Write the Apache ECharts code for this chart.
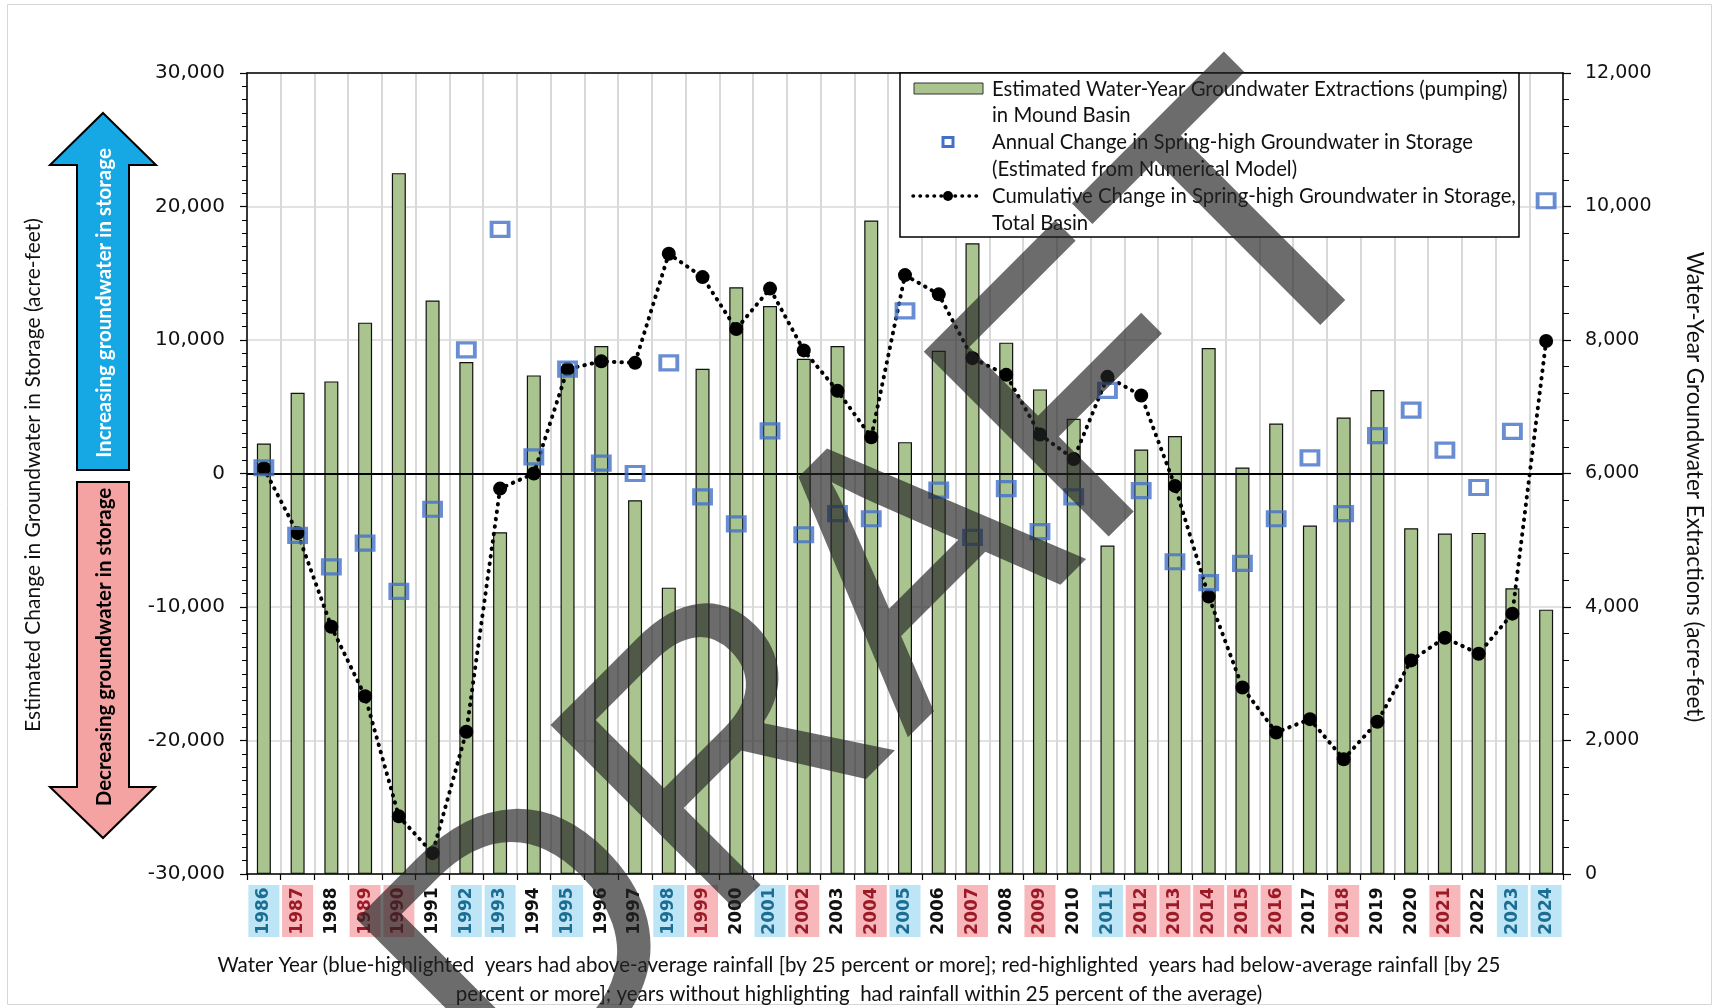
<!DOCTYPE html>
<html>
<head>
<meta charset="utf-8">
<style>html,body{margin:0;padding:0;background:#fff;}#c{width:1716px;height:1008px;}</style>
<script src="https://cdn.jsdelivr.net/npm/echarts@6/dist/echarts.min.js"></script>
</head>
<body>
<div id="c"></div>
<script>
const years = ['1986','1987','1988','1989','1990','1991','1992','1993','1994','1995','1996','1997','1998','1999','2000','2001','2002','2003','2004','2005','2006','2007','2008','2009','2010','2011','2012','2013','2014','2015','2016','2017','2018','2019','2020','2021','2022','2023','2024'];
// Estimated water-year groundwater extractions (right axis, acre-feet)
const extraction = [6450,7210,7380,8260,10500,8590,7670,5120,7470,7580,7910,5600,4290,7570,8790,8510,7720,7910,9790,6470,7840,9450,7960,7260,6820,4920,6360,6560,7880,6090,6750,5220,6840,7250,5180,5100,5110,4280,3960];
// Annual change in spring-high groundwater in storage (left axis)
const annualChange = [430,-4630,-7000,-5210,-8830,-2680,9260,18290,1250,7820,780,0,8290,-1750,-3770,3190,-4590,-3000,-3390,12180,-1250,-4790,-1130,-4360,-1750,6230,-1280,-6610,-8170,-6730,-3390,1170,-3000,2840,4750,1750,-1050,3150,20430];
// Cumulative change in spring-high groundwater in storage (left axis)
const cumulative = [390,-4470,-11480,-16690,-25680,-28440,-19340,-1130,0,7820,8400,8290,16460,14710,10820,13850,9220,6190,2720,14860,13420,8640,7390,2920,1090,7240,5840,-930,-9220,-16030,-19400,-18400,-21400,-18600,-14000,-12300,-13500,-10500,9920];
// Rainfall class per year: 'a' above average, 'b' below average, '' within 25%
const rainClass = ['a','b','','b','b','','a','a','','a','','','a','b','','a','b','','b','a','','b','','b','','a','b','b','b','b','b','','b','','','b','','a','a'];

const seriesNames = [
  'Estimated Water-Year Groundwater Extractions (pumping) in Mound Basin',
  'Annual Change in Spring-high Groundwater in Storage (Estimated from Numerical Model)',
  'Cumulative Change in Spring-high Groundwater in Storage, Total Basin'
];
const legendLines = [
  'Estimated Water-Year Groundwater Extractions (pumping)',
  'in Mound Basin',
  'Annual Change in Spring-high Groundwater in Storage',
  '(Estimated from Numerical Model)',
  'Cumulative Change in Spring-high Groundwater in Storage,',
  'Total Basin'
];
const xTitle1 = 'Water Year (blue-highlighted  years had above-average rainfall [by 25 percent or more]; red-highlighted  years had below-average rainfall [by 25';
const xTitle2 = 'percent or more]; years without highlighting  had rainfall within 25 percent of the average)';
const leftTitle = 'Estimated Change in Groundwater in Storage (acre-feet)';
const rightTitle = 'Water-Year Groundwater Extractions (acre-feet)';
const upText = 'Increasing groundwater in storage';
const downText = 'Decreasing groundwater in storage';

const barColor = '#a9c48e';
const sqColor = '#4270c8';
const calibri = 'Lato, "Open Sans", sans-serif';
const tickFont = '"DejaVu Sans", Verdana, sans-serif';

const fmt = v => v.toLocaleString('en-US');

const chart = echarts.init(document.getElementById('c'), null, {renderer: 'canvas'});

const labelBase = {fontFamily: tickFont, fontWeight: 'bold', fontSize: 17, width: 52, height: 31, lineHeight: 31, align: 'center'};

const legendY = [89, 115, 142, 169, 196, 223];
const graphics = [
  // outer frame
  {type: 'rect', silent: true, z: -10, shape: {x: 7.5, y: 4.5, width: 1704, height: 1000}, style: {fill: 'none', stroke: '#d6d6d6', lineWidth: 1}},
  // up arrow
  {type: 'polygon', z: 5, shape: {points: [[103,113],[156,165],[129,165],[129,470],[77,470],[77,165],[50,165]]}, style: {fill: '#15a8e4', stroke: '#000', lineWidth: 2}},
  {type: 'text', z: 6, x: 104, y: 303, rotation: Math.PI / 2, style: {text: upText, fill: '#fff', font: 'bold 20.5px ' + calibri, textAlign: 'center', textVerticalAlign: 'middle'}},
  // down arrow
  {type: 'polygon', z: 5, shape: {points: [[77,482],[129,482],[129,787],[155,787],[103,838],[50,787],[77,787]]}, style: {fill: '#f5a2a2', stroke: '#000', lineWidth: 2}},
  {type: 'text', z: 6, x: 104, y: 647, rotation: Math.PI / 2, style: {text: downText, fill: '#000', font: 'bold 20.5px ' + calibri, textAlign: 'center', textVerticalAlign: 'middle'}},
  // axis titles
  {type: 'text', z: 6, x: 33, y: 475, rotation: Math.PI / 2, style: {text: leftTitle, fill: '#111', font: '21px ' + calibri, textAlign: 'center', textVerticalAlign: 'middle'}},
  {type: 'text', z: 6, x: 1694, y: 487, rotation: -Math.PI / 2, style: {text: rightTitle, fill: '#111', font: '22.5px ' + calibri, textAlign: 'center', textVerticalAlign: 'middle'}},
  {type: 'text', z: 6, x: 859, y: 965, style: {text: xTitle1, fill: '#111', font: '20.5px ' + calibri, textAlign: 'center', textVerticalAlign: 'middle'}},
  {type: 'text', z: 6, x: 859, y: 994, style: {text: xTitle2, fill: '#111', font: '20.5px ' + calibri, textAlign: 'center', textVerticalAlign: 'middle'}},
  // legend box
  {type: 'rect', z: 20, shape: {x: 900, y: 73, width: 619, height: 164}, style: {fill: '#fff', stroke: '#000', lineWidth: 1.5}},
  {type: 'rect', z: 21, shape: {x: 914, y: 83, width: 69, height: 11}, style: {fill: barColor, stroke: '#333', lineWidth: 1}},
  {type: 'rect', z: 21, shape: {x: 943, y: 137.5, width: 10, height: 9}, style: {fill: 'none', stroke: sqColor, lineWidth: 3}},
  {type: 'line', z: 21, shape: {x1: 913, y1: 196, x2: 983, y2: 196}, style: {stroke: '#000', lineWidth: 3.5, lineDash: [0.5, 6.5], lineCap: 'round'}},
  {type: 'circle', z: 22, shape: {cx: 948, cy: 196, r: 5}, style: {fill: '#000'}}
];
legendLines.forEach((t, i) => {
  graphics.push({type: 'text', z: 22, x: 992, y: legendY[i], style: {text: t, fill: '#111', font: '20.3px ' + calibri, textAlign: 'left', textVerticalAlign: 'middle'}});
});
// DRAFT watermark
graphics.push({type: 'text', z: 200, silent: true, x: 893, y: 604, rotation: 45 * Math.PI / 180,
  style: {text: 'DRAFT', fill: 'rgba(36,36,36,0.67)', font: '380px "Liberation Sans", Arial, sans-serif', textAlign: 'center', textVerticalAlign: 'middle'}});

const option = {
  animation: false,
  backgroundColor: '#fff',
  grid: {left: 247, right: 153, top: 73, bottom: 134, containLabel: false},
  xAxis: [{
    type: 'category', data: years, position: 'bottom', boundaryGap: true,
    axisLine: {show: true, onZero: false, lineStyle: {color: '#000', width: 1.5}},
    axisTick: {show: true, length: 6, interval: 0, lineStyle: {color: '#000', width: 1.2}},
    splitLine: {show: true, interval: 0, lineStyle: {color: '#d9d9d9', width: 2}},
    axisLabel: {
      interval: 0, rotate: 90, margin: 11,
      formatter: (v, i) => rainClass[i] === 'a' ? '{a|' + v + '}' : (rainClass[i] === 'b' ? '{b|' + v + '}' : '{n|' + v + '}'),
      rich: {
        a: Object.assign({}, labelBase, {backgroundColor: '#bde5f6', color: '#1b6d94'}),
        b: Object.assign({}, labelBase, {backgroundColor: '#f8b7bb', color: '#9a1b27'}),
        n: Object.assign({}, labelBase, {color: '#111'})
      }
    }
  }, {
    type: 'category', data: years, position: 'top', boundaryGap: true,
    axisLine: {show: true, onZero: false, lineStyle: {color: '#000', width: 1.5}},
    axisTick: {show: false}, axisLabel: {show: false}, splitLine: {show: false}
  }],
  yAxis: [{
    type: 'value', min: -30000, max: 30000, interval: 10000, position: 'left',
    axisLine: {show: true, lineStyle: {color: '#000', width: 1.5}},
    axisTick: {show: true, length: 7, lineStyle: {color: '#000', width: 1.2}},
    minorTick: {show: true, splitNumber: 10, length: 5, lineStyle: {color: '#000', width: 1}},
    splitLine: {show: true, lineStyle: {color: '#d9d9d9', width: 1.5}},
    axisLabel: {formatter: fmt, fontFamily: tickFont, fontSize: 20, color: '#111', margin: 22}
  }, {
    type: 'value', min: 0, max: 12000, interval: 2000, position: 'right',
    axisLine: {show: true, lineStyle: {color: '#000', width: 1.5}},
    axisTick: {show: true, length: 8, lineStyle: {color: '#000', width: 1.2}},
    minorTick: {show: true, splitNumber: 5, length: 6, lineStyle: {color: '#000', width: 1}},
    splitLine: {show: false},
    axisLabel: {formatter: fmt, fontFamily: tickFont, fontSize: 19, color: '#111', margin: 22}
  }],
  series: [{
    name: seriesNames[0], type: 'bar', xAxisIndex: 0, yAxisIndex: 1, data: extraction, barWidth: 14, z: 2,
    itemStyle: {color: barColor, borderColor: '#111', borderWidth: 1.2}
  }, {
    name: seriesNames[2], type: 'line', xAxisIndex: 0, yAxisIndex: 0, data: cumulative, z: 4,
    symbol: 'circle', symbolSize: 14, itemStyle: {color: '#000'},
    lineStyle: {color: '#000', width: 4, type: [0.5, 7], cap: 'round'},
    markLine: {silent: true, symbol: 'none', label: {show: false}, animation: false,
      lineStyle: {color: '#000', width: 2, type: 'solid'}, data: [{yAxis: 0}]}
  }, {
    name: seriesNames[1], type: 'scatter', xAxisIndex: 0, yAxisIndex: 0, data: annualChange, z: 5,
    symbol: 'rect', symbolSize: [17, 14],
    itemStyle: {color: 'rgba(0,0,0,0)', borderColor: sqColor, borderWidth: 3.5}
  }],
  graphic: {elements: graphics}
};
chart.setOption(option);
</script>
</body>
</html>
